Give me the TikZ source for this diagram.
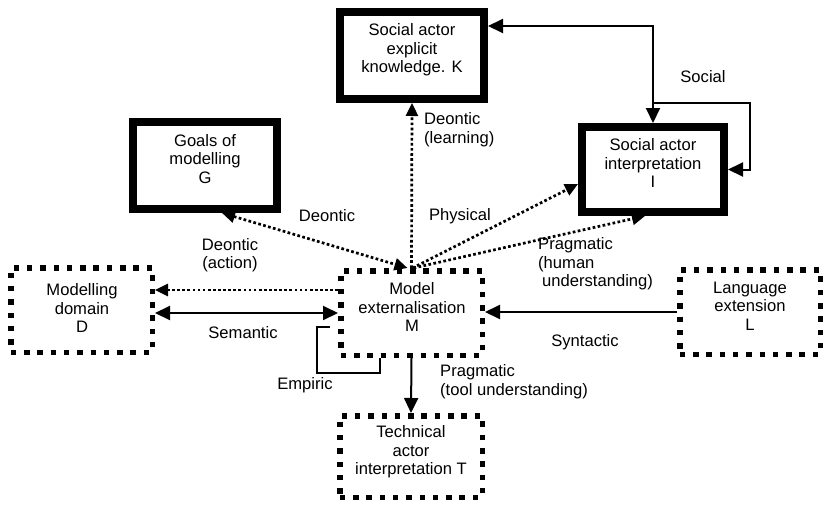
\documentclass[tikz,border=0pt]{standalone}
\usepackage{fontspec}
\setmainfont{Liberation Sans}
\usetikzlibrary{arrows.meta,calc}
\begin{document}
\begin{tikzpicture}[x=1pt,y=-1pt,
  thickbox/.style={draw, line width=8pt, minimum width=144pt, minimum height=87pt, inner sep=0pt},
  dotbox/.style={draw, line width=5.5pt, dash pattern=on 5.5pt off 7.8pt, minimum width=141.5pt, minimum height=84.5pt, inner sep=0pt},
  txt/.style={font=\fontsize{16.6}{18.6}\selectfont, align=center, inner sep=0pt},
  ltxt/.style={txt, align=left, anchor=west},
  sline/.style={line width=2pt},
  dline/.style={line width=2.7pt, dash pattern=on 2.7pt off 2.4pt},
  sarr/.style={sline, -{Triangle[length=15pt,width=14pt]}},
  sdarr/.style={sline, {Triangle[length=15pt,width=14pt]}-{Triangle[length=15pt,width=14pt]}},
  darr/.style={dline, -{Triangle[length=13pt,width=12pt]}},
  ddarr/.style={dline, {Triangle[length=13pt,width=12pt]}-{Triangle[length=13pt,width=12pt]}}
]
\useasboundingbox (0,0) rectangle (825,509);

% boxes
\node[thickbox] (K) at (412,55.5) {};
\node[thickbox] (G) at (205,165.5) {};
\node[thickbox, minimum width=142pt, minimum height=85pt] (I) at (653,169.5) {};
\node[dotbox] (D) at (81.5,310) {};
\node[dotbox] (M) at (411.5,313) {};
\node[dotbox, minimum width=140.5pt] (L) at (750,312) {};
\node[dotbox, minimum width=142.5pt, minimum height=81.5pt] (T) at (411,456.5) {};

% box texts
\node[txt] (Kt) at (412,50) {Social actor\\explicit\\knowledge. K};
\node[txt] (Gt) at (205,159) {Goals of\\modelling\\G};
\node[txt] (It) at (653,163) {Social actor\\interpretation\\I};
\node[txt] (Dt) at (82,308) {Modelling\\domain\\D};
\node[txt] (Mt) at (412,307) {Model\\externalisation\\M};
\node[txt] (Lt) at (750,306) {Language\\extension\\L};
\node[txt] (Tt) at (411,452) {Technical\\actor\\interpretation T};

% helper coordinates
\coordinate (ky) at (0,26);
\coordinate (sc) at (750,103);
\coordinate (dy) at (0,290);
\coordinate (ey) at (0,313);
\coordinate (emp) at (317,373);

% connectors
\draw[sdarr] (K.east |- ky) -| (I.north);
\draw[sarr] (I.north |- sc) -- (sc) |- (I.east);
\draw[darr] (M.north) -- (K.south);
\draw[ddarr] ($(G.south)+(17,0)$) -- ($(M.north)+(-4,0)$);
\draw[darr] ($(M.north)+(1,0)$) -- ($(I.west)+(0,14.5)$);
\draw[darr] ($(M.north)+(2,0)$) -- ($(I.south)+(-8,0)$);
\draw[darr] (M.west |- dy) -- (D.east |- dy);
\draw[sdarr] (D.east |- ey) -- (M.west |- ey);
\draw[sarr] (L.west) -- (M.east |- L.west);
\draw[sline] ($(M.south)+(-31.5,0)$) |- (emp) |- ($(M.west)+(-8,14)$);
\draw[sarr] (M.south) -- (T.north);

% labels
\node[txt] (lsoc) at (703,77) {Social};
\node[ltxt] (llearn) at (424,130) {Deontic\\(learning)};
\node[txt] (lgoal) at (327,216) {Deontic};
\node[txt] (lphys) at (460,216) {Physical};
\node[ltxt] (lhum) at (538,264) {Pragmatic\\(human\\\hspace*{4pt}understanding)};
\node[txt] (lact) at (230,255) {Deontic\\(action)};
\node[txt] (lsem) at (243,333) {Semantic};
\node[txt] (lsyn) at (585,342) {Syntactic};
\node[txt] (lemp) at (305,385) {Empiric};
\node[ltxt] (ltool) at (440,382) {Pragmatic\\(tool understanding)};
\end{tikzpicture}
\end{document}
